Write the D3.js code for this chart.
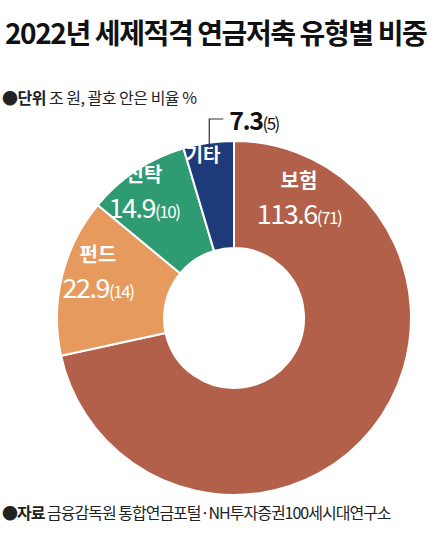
<!DOCTYPE html><html><head><meta charset="utf-8"><script src="https://cdn.jsdelivr.net/npm/d3@7"></script>
<style>body{margin:0;background:#fff}text{font-family:"Noto Sans CJK KR","Noto Sans",sans-serif}</style></head><body>
<svg id="c" width="441" height="537"></svg>
<script>
const categories=["보험","펀드","신탁","기타"];
const values=[113.6,22.9,14.9,7.3];
const shares=[71,14,10,5];
const colors=["#b3604b","#e69a5e","#2f9b72","#1c3b78"];
const svg=d3.select("#c");
svg.append("text").attr("x",5).attr("y",44).attr("font-size",28).attr("font-weight",700).attr("fill","#111").attr("letter-spacing",-1.4).text("2022년 세제적격 연금저축 유형별 비중");
const sub=svg.append("text").attr("x",2).attr("y",104).attr("font-size",16).attr("fill","#222").attr("letter-spacing",-0.5);
sub.append("tspan").attr("font-weight",700).text("●단위");sub.append("tspan").text(" 조 원, 괄호 안은 비율 %");
const ft=svg.append("text").attr("x",2).attr("y",519).attr("font-size",16).attr("fill","#222").attr("letter-spacing",-1);
ft.append("tspan").attr("font-weight",700).text("●자료");ft.append("tspan").text(" 금융감독원 통합연금포털·NH투자증권100세시대연구소");
const cx=234,cy=318,R=177,r0=70;
const pie=d3.pie().sort(null).value(d=>d)(values);
const arc=d3.arc().innerRadius(r0).outerRadius(R);
const g=svg.append("g").attr("transform",`translate(${cx},${cy})`);
g.selectAll("path").data(pie).join("path").attr("d",arc).attr("fill",(d,i)=>colors[i]).attr("stroke","#fff").attr("stroke-width",2);
const lab=[{i:0,dx:65,dy:-130},{i:1,dx:-136,dy:-56},{i:2,dx:-90,dy:-136}];
lab.forEach(l=>{
 const t=g.append("g").attr("transform",`translate(${l.dx},${l.dy})`).attr("fill","#fff");
 t.append("text").attr("text-anchor","middle").attr("font-size",20).attr("font-weight",700).text(categories[l.i]);
 const v=t.append("text").attr("text-anchor","middle").attr("y",36).attr("letter-spacing",-1.5);
 v.append("tspan").attr("font-size",27).text(values[l.i]);v.append("tspan").attr("font-size",17).text("("+shares[l.i]+")");
});
g.append("text").attr("x",-31).attr("y",-156).attr("text-anchor","middle").attr("font-size",19).attr("font-weight",700).attr("fill","#fff").text(categories[3]);
const a=(pie[3].startAngle+pie[3].endAngle)/2;
const px=Math.sin(a)*R*0.97,py=-Math.cos(a)*R*0.97;
g.append("polyline").attr("points",`${px},${py} ${px},${-199} ${px+14},${-199}`).attr("fill","none").attr("stroke","#333").attr("stroke-width",1.2);
const o=g.append("text").attr("x",px+20).attr("y",-188).attr("fill","#111").attr("letter-spacing",-1.5);
o.append("tspan").attr("font-size",25).attr("font-weight",600).text(values[3]);o.append("tspan").attr("font-size",17).text("("+shares[3]+")");
</script></body></html>
